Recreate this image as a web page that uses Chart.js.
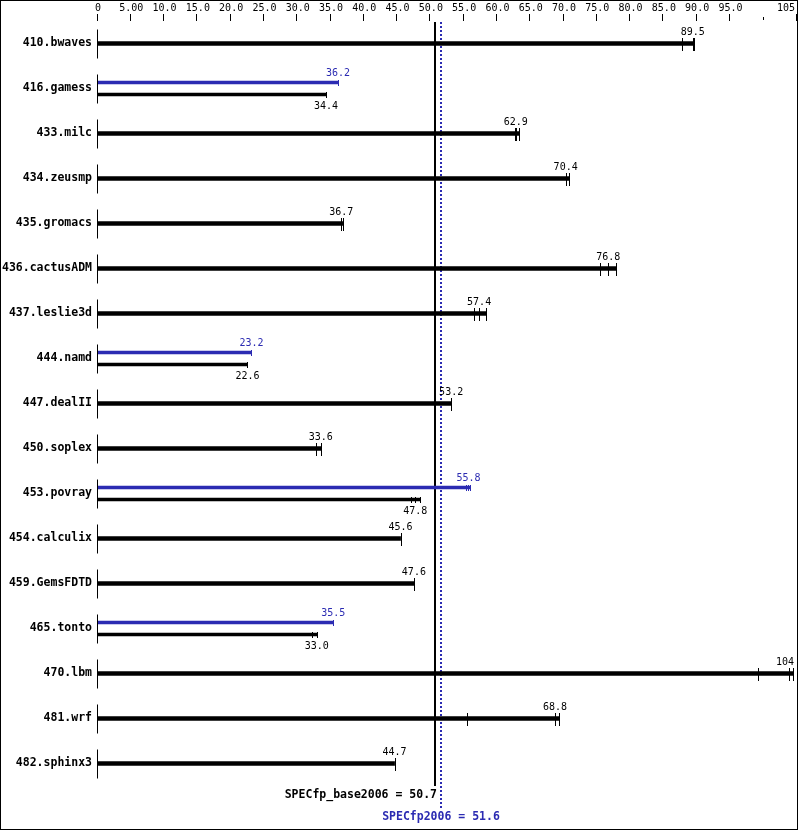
<!DOCTYPE html>
<html>
<head>
<meta charset="utf-8">
<script src="https://cdn.jsdelivr.net/npm/chart.js@4/dist/chart.umd.min.js"></script>
<style>
  html, body { margin: 0; padding: 0; background: #fff; }
  #wrap { width: 799px; height: 831px; }
</style>
</head>
<body>
<div id="wrap"><canvas id="chart" width="799" height="831"></canvas></div>
<script>
const benchmarks = ['410.bwaves', '416.gamess', '433.milc', '434.zeusmp', '435.gromacs', '436.cactusADM',
  '437.leslie3d', '444.namd', '447.dealII', '450.soplex', '453.povray', '454.calculix', '459.GemsFDTD',
  '465.tonto', '470.lbm', '481.wrf', '482.sphinx3'];

// scores (median of the runs)
const baseScores = [89.5, 34.4, 62.9, 70.4, 36.7, 76.8, 57.4, 22.6, 53.2, 33.6, 47.8, 45.6, 47.6, 33.0, 104, 68.8, 44.7];
const peakScores = [89.5, 36.2, 62.9, 70.4, 36.7, 76.8, 57.4, 23.2, 53.2, 33.6, 55.8, 45.6, 47.6, 35.5, 104, 68.8, 44.7];

// individual runs
const baseRuns = [
  [87.9, 89.5, 89.7], [34.4, 34.4, 34.4], [62.8, 62.9, 63.4], [70.4, 70.4, 70.9], [36.7, 36.7, 36.9],
  [75.6, 76.8, 78.0], [56.7, 57.4, 58.4], [22.6, 22.6, 22.6], [53.2, 53.2, 53.2], [32.9, 33.6, 33.6],
  [47.2, 47.8, 48.5], [45.6, 45.6, 45.6], [47.6, 47.6, 47.6], [32.3, 33.0, 33.1], [99.3, 104.0, 104.6],
  [55.6, 68.8, 69.4], [44.7, 44.7, 44.7]
];
const peakRuns = [
  [87.9, 89.5, 89.7], [36.2, 36.2, 36.2], [62.8, 62.9, 63.4], [70.4, 70.4, 70.9], [36.7, 36.7, 36.9],
  [75.6, 76.8, 78.0], [56.7, 57.4, 58.4], [23.2, 23.2, 23.2], [53.2, 53.2, 53.2], [32.9, 33.6, 33.6],
  [55.5, 55.8, 56.0], [45.6, 45.6, 45.6], [47.6, 47.6, 47.6], [35.5, 35.5, 35.5], [99.3, 104.0, 104.6],
  [55.6, 68.8, 69.4], [44.7, 44.7, 44.7]
];

const axisTicks = [0, 5, 10, 15, 20, 25, 30, 35, 40, 45, 50, 55, 60, 65, 70, 75, 80, 85, 90, 95, 105];
const axisTickLabels = ['0', '5.00', '10.0', '15.0', '20.0', '25.0', '30.0', '35.0', '40.0', '45.0', '50.0',
  '55.0', '60.0', '65.0', '70.0', '75.0', '80.0', '85.0', '90.0', '95.0', '105'];

const summaryBase = 50.7;
const summaryPeak = 51.6;

const BLUE = '#2b2bb2';
const MONO = '"DejaVu Sans Mono", monospace';

const differs = baseScores.map((b, i) => b !== peakScores[i]);
const runMax = (runs) => runs.map(r => Math.max(...r));

/* ---------- Extra drawing: summary lines (behind), run ticks, labels ---------- */
const specPlugin = {
  id: 'spec',
  beforeDatasetsDraw(chart) {
    const { ctx, chartArea } = chart;
    const x = chart.scales.x;
    ctx.save();
    const bx = Math.round(x.getPixelForValue(summaryBase));
    ctx.strokeStyle = '#000';
    ctx.lineWidth = 2;
    ctx.beginPath();
    ctx.moveTo(bx, chartArea.top + 1);
    ctx.lineTo(bx, 786);
    ctx.stroke();

    const pxx = Math.round(x.getPixelForValue(summaryPeak));
    ctx.strokeStyle = BLUE;
    ctx.setLineDash([2, 2]);
    ctx.beginPath();
    ctx.moveTo(pxx, chartArea.top + 1);
    ctx.lineTo(pxx, 808);
    ctx.stroke();
    ctx.restore();
  },
  afterDatasetsDraw(chart) {
    const { ctx, chartArea } = chart;
    const x = chart.scales.x, y = chart.scales.y;
    const px = (v) => Math.round(x.getPixelForValue(v)) + 0.5;

    ctx.save();
    ctx.lineWidth = 1;

    // short tick at 100
    ctx.strokeStyle = '#000';
    ctx.beginPath();
    ctx.moveTo(px(100), chartArea.top - 4);
    ctx.lineTo(px(100), chartArea.top - 1);
    ctx.stroke();

    // axis labels
    ctx.font = '10px ' + MONO;
    ctx.fillStyle = '#000';
    ctx.textBaseline = 'middle';
    axisTicks.forEach((v, i) => {
      const w = ctx.measureText(axisTickLabels[i]).width;
      let cx = x.getPixelForValue(v);
      if (cx + w / 2 > 794) cx = 794 - w / 2;
      ctx.textAlign = 'center';
      ctx.fillText(axisTickLabels[i], cx + 1, 8);
    });

    benchmarks.forEach((name, i) => {
      const cy = y.getPixelForValue(i);
      // left row segment
      ctx.strokeStyle = '#000';
      ctx.beginPath();
      ctx.moveTo(px(0), cy - 14);
      ctx.lineTo(px(0), cy + 15);
      ctx.stroke();

      const rows = differs[i]
        ? [{ runs: peakRuns[i], score: peakScores[i], c: cy - 6, color: BLUE, h: [-3, 3], ly: cy - 15 },
           { runs: baseRuns[i], score: baseScores[i], c: cy + 6, color: '#000', h: [-3, 3], ly: cy + 18 }]
        : [{ runs: baseRuns[i], score: baseScores[i], c: cy, color: '#000', h: [-6, 7], ly: cy - 11 }];

      rows.forEach(r => {
        ctx.strokeStyle = r.color;
        r.runs.forEach(v => {
          ctx.beginPath();
          ctx.moveTo(px(v), Math.round(r.c + r.h[0]));
          ctx.lineTo(px(v), Math.round(r.c + r.h[1]));
          ctx.stroke();
        });
        const txt = r.score >= 100 ? r.score.toFixed(0) : r.score.toFixed(1);
        ctx.font = '10px ' + MONO;
        ctx.fillStyle = r.color;
        ctx.textAlign = 'center';
        const w = ctx.measureText(txt).width;
        let cx = x.getPixelForValue(r.score);
        if (cx + w / 2 > 794) cx = 794 - w / 2;
        ctx.fillText(txt, cx, r.ly);
      });
    });

    // summary labels
    const bx = Math.round(x.getPixelForValue(summaryBase));
    const pxx = Math.round(x.getPixelForValue(summaryPeak));
    ctx.font = 'bold 11.5px ' + MONO;
    ctx.fillStyle = '#000';
    ctx.textAlign = 'right';
    ctx.fillText('SPECfp_base2006 = ' + summaryBase.toFixed(1), bx + 2, 795);
    ctx.fillStyle = BLUE;
    ctx.textAlign = 'center';
    ctx.fillText('SPECfp2006 = ' + summaryPeak.toFixed(1), pxx, 817);

    // frame
    ctx.strokeStyle = '#000';
    ctx.lineWidth = 1;
    ctx.strokeRect(0.5, 0.5, 797, 829);
    ctx.restore();
  }
};

new Chart(document.getElementById('chart'), {
  type: 'bar',
  data: {
    labels: benchmarks,
    datasets: [
      {
        label: 'base = peak',
        data: runMax(baseRuns).map((v, i) => differs[i] ? null : v),
        backgroundColor: '#000',
        barThickness: 12,
        maxBarThickness: 4
      },
      {
        label: 'peak',
        data: runMax(peakRuns).map((v, i) => differs[i] ? v : null),
        backgroundColor: BLUE,
        barThickness: 12,
        maxBarThickness: 3
      },
      {
        label: 'base',
        data: runMax(baseRuns).map((v, i) => differs[i] ? v : null),
        backgroundColor: '#000',
        barThickness: 12,
        maxBarThickness: 3
      }
    ]
  },
  options: {
    indexAxis: 'y',
    responsive: false,
    animation: false,
    devicePixelRatio: 1,
    skipNull: true,
    layout: { padding: { left: 0, right: 3, top: 0, bottom: 45 } },
    plugins: { legend: { display: false }, tooltip: { enabled: false } },
    scales: {
      x: {
        type: 'linear',
        position: 'top',
        min: 0,
        max: 105,
        ticks: { stepSize: 5, display: false },
        border: { display: false },
        grid: {
          drawOnChartArea: false,
          drawTicks: true,
          tickLength: 7,
          tickColor: (c) => (c.tick && c.tick.value === 100) ? 'rgba(0,0,0,0)' : '#000'
        },
        afterFit: (s) => { s.height = 21; }
      },
      y: {
        border: { display: false },
        grid: { display: false, drawTicks: false },
        ticks: { color: '#000', font: { family: MONO, size: 11.5, weight: 'bold' }, padding: 5 },
        afterFit: (s) => { s.width = 97; }
      }
    }
  },
  plugins: [specPlugin]
});
</script>
</body>
</html>
